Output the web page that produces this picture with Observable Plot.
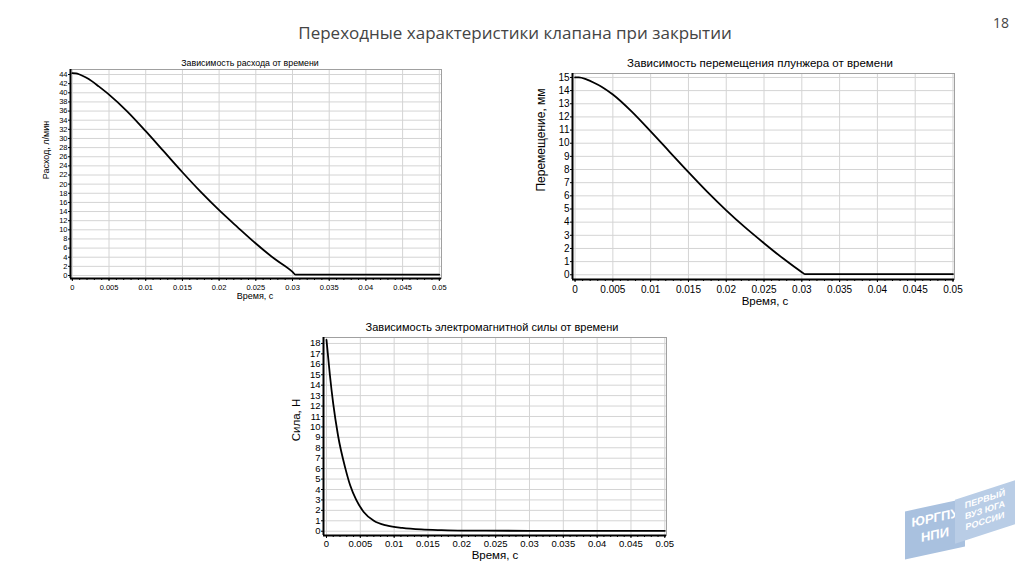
<!DOCTYPE html>
<html><head><meta charset="utf-8">
<script src="https://cdn.jsdelivr.net/npm/d3@7"></script>
<script src="https://cdn.jsdelivr.net/npm/@observablehq/plot@0.6"></script>
<style>
html,body{margin:0;padding:0;background:#fff;width:1024px;height:574px;overflow:hidden;position:relative;font-family:"Liberation Sans",Arial,sans-serif;}
.abs{position:absolute;}
.ttl{position:absolute;white-space:nowrap;transform:translate(-50%,-50%);color:#000;}
.rot{position:absolute;white-space:nowrap;transform:translate(-50%,-50%) rotate(-90deg);color:#000;}
</style></head><body>
<div class="ttl" style="left:515px;top:32px;font-family:'Open Sans';font-size:17px;color:#444;">Переходные характеристики клапана при закрытии</div>
<div class="ttl" style="left:1001px;top:22px;font-family:'Open Sans';font-size:14px;color:#444;">18</div>

<div class="ttl" style="left:250px;top:63px;font-size:8.8px;">Зависимость расхода от времени</div>
<div class="ttl" style="left:255px;top:296px;font-size:9px;">Время, с</div>
<div class="rot" style="left:46px;top:150px;font-size:9px;">Расход, л/мин</div>

<div class="ttl" style="left:760px;top:63px;font-size:11.5px;">Зависимость перемещения плунжера от времени</div>
<div class="ttl" style="left:765px;top:301px;font-size:11.5px;">Время, с</div>
<div class="rot" style="left:541px;top:140px;font-size:12px;">Перемещение, мм</div>

<div class="ttl" style="left:492px;top:327px;font-size:11px;">Зависимость электромагнитной силы от времени</div>
<div class="ttl" style="left:495px;top:555px;font-size:11.5px;">Время, с</div>
<div class="rot" style="left:296px;top:420px;font-size:11.5px;">Сила, Н</div>

<div id="c1" class="abs" style="left:30px;top:55px;"></div>
<div id="c2" class="abs" style="left:530px;top:60px;"></div>
<div id="c3" class="abs" style="left:300px;top:325px;"></div>

<div class="abs" style="left:905px;top:505px;width:60px;height:48px;background:#a9c1df;transform:skewY(-12deg);color:#fff;font:bold 13px 'Liberation Sans';line-height:17px;text-align:center;padding-top:4px;box-sizing:border-box;">ЮРГПУ<br>НПИ</div>
<div class="abs" style="left:955px;top:490px;width:60px;height:44px;background:#b9cde6;transform:skewY(-18deg);color:#fff;font:bold 9px 'Liberation Sans';line-height:11px;text-align:center;padding-top:4px;box-sizing:border-box;">ПЕРВЫЙ<br>ВУЗ ЮГА<br>РОССИИ</div>

<script>
// ---- data ----
const xTicks = [0, 0.005, 0.01, 0.015, 0.02, 0.025, 0.03, 0.035, 0.04, 0.045, 0.05];

const flowTime = [0, 0.0005, 0.001, 0.0018, 0.0027, 0.0036, 0.005, 0.0075, 0.01, 0.0125, 0.015, 0.0175, 0.02, 0.0225, 0.025, 0.0275, 0.03, 0.0304, 0.035, 0.04, 0.045, 0.05];
const flowValue = [44.3, 44.25, 44.0, 43.4, 42.5, 41.4, 39.6, 35.9, 31.6, 27.1, 22.6, 18.3, 14.3, 10.6, 7.0, 3.7, 0.8, 0.2, 0.2, 0.2, 0.2, 0.2];
const flowTicks = [0,2,4,6,8,10,12,14,16,18,20,22,24,26,28,30,32,34,36,38,40,42,44];

const dispTime = [0, 0.0005, 0.0015, 0.0025, 0.0035, 0.005, 0.0075, 0.01, 0.0125, 0.015, 0.0175, 0.02, 0.0225, 0.025, 0.0275, 0.03, 0.0304, 0.035, 0.04, 0.045, 0.05];
const dispValue = [15.0, 15.0, 14.85, 14.6, 14.3, 13.7, 12.4, 10.9, 9.35, 7.8, 6.3, 4.9, 3.6, 2.4, 1.25, 0.2, 0.05, 0.05, 0.05, 0.05, 0.05];
const dispTicks = [0,1,2,3,4,5,6,7,8,9,10,11,12,13,14,15];

const forceTime = [0, 0.0005, 0.001, 0.0017, 0.0028, 0.0035, 0.0044, 0.0055, 0.007, 0.009, 0.0112, 0.014, 0.017, 0.02, 0.03, 0.04, 0.05];
const forceValue = [18.35, 15.0, 12.2, 9.2, 6.0, 4.4, 3.0, 1.85, 1.0, 0.54, 0.32, 0.17, 0.1, 0.06, 0.04, 0.04, 0.04];
const forceTicks = [0,1,2,3,4,5,6,7,8,9,10,11,12,13,14,15,16,17,18];

// ---- drawing ----
const fmt = d3.format("~g");
function chart(o) {
  const data = o.t.map((t, i) => ({t, v: o.v[i]}));
  const minor = d3.range(0, 51).map(i => i / 1000);
  return Plot.plot({
    width: o.width, height: o.height,
    marginLeft: o.ml, marginRight: o.mr, marginTop: o.mt, marginBottom: o.mb,
    x: {domain: o.xd},
    y: {domain: o.yd},
    style: {fontFamily: "'Liberation Sans', Arial, sans-serif", fontSize: o.fs + "px", color: "#000", background: "transparent", overflow: "visible"},
    marks: [
      Plot.gridX(xTicks, {stroke: "#d4d4d4", strokeOpacity: 1}),
      Plot.gridY(o.yt, {stroke: "#d4d4d4", strokeOpacity: 1}),
      Plot.frame({stroke: "#a0a0a0"}),
      Plot.axisX(minor, {tickFormat: () => "", tickSize: 2, label: null, stroke: "#000"}),
      Plot.axisX(xTicks, {tickFormat: fmt, tickSize: 3, tickPadding: o.xp, label: null, fill: "#000"}),
      Plot.axisY(o.yt, {tickSize: 2, tickPadding: 1, label: null, fill: "#000"}),
      Plot.ruleX([o.xd[0]], {stroke: "#000", strokeWidth: 2}),
      Plot.ruleY([o.yd[0]], {stroke: "#000", strokeWidth: 2}),
      Plot.line(data, {x: "t", y: "v", stroke: "#000", strokeWidth: 1.8, curve: "monotone-x"})
    ]
  });
}

document.getElementById("c1").append(chart({
  t: flowTime, v: flowValue, yt: flowTicks,
  width: 417, height: 247, ml: 40, mr: 6, mt: 14, mb: 24,
  xd: [-0.00025, 0.0503], yd: [-0.66, 45.1], fs: 7.5, xp: 3
}));
document.getElementById("c2").append(chart({
  t: dispTime, v: dispValue, yt: dispTicks,
  width: 430, height: 245, ml: 42, mr: 6, mt: 13, mb: 26,
  xd: [-0.00034, 0.0502], yd: [-0.36, 15.3], fs: 10, xp: 3
}));
document.getElementById("c3").append(chart({
  t: forceTime, v: forceValue, yt: forceTicks,
  width: 372, height: 232, ml: 23, mr: 6, mt: 12, mb: 22,
  xd: [-0.00044, 0.05025], yd: [-0.41, 18.57], fs: 9.5, xp: 2
}));
</script>
</body></html>
